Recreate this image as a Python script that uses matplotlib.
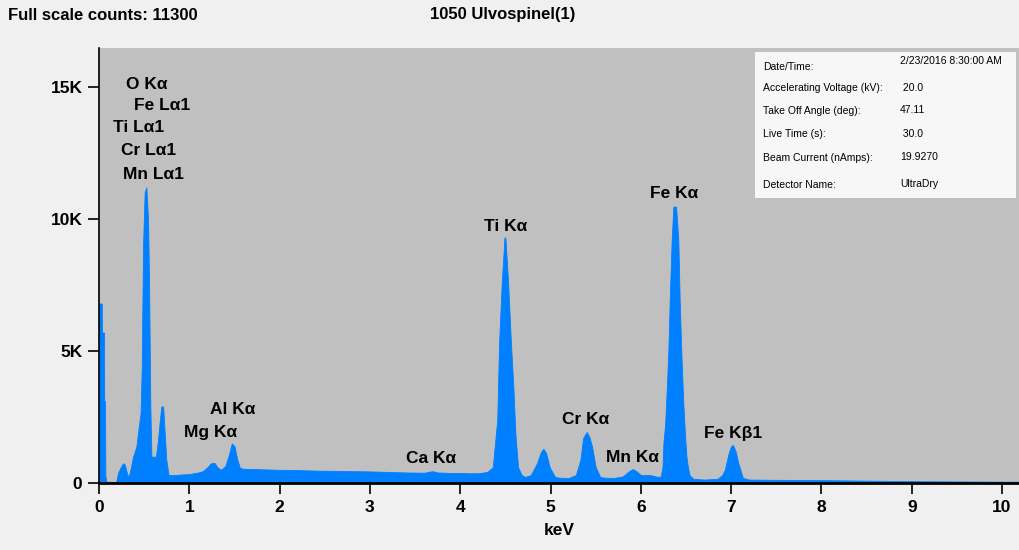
import matplotlib
matplotlib.use("Agg")
import matplotlib.pyplot as plt
from matplotlib.ticker import FuncFormatter

# spectrum: energy (keV) and counts
energy = [0.00, 0.03, 0.033, 0.055, 0.057, 0.066, 0.07, 0.08, 0.19, 0.21, 0.24, 0.265, 0.285, 0.32,
          0.34, 0.377, 0.413, 0.44, 0.46, 0.473, 0.487, 0.505, 0.524, 0.543, 0.554, 0.568, 0.58,
          0.60, 0.63, 0.653, 0.67, 0.69, 0.71, 0.727, 0.745, 0.77, 0.80, 0.85, 0.90,
          0.95, 1.00, 1.05, 1.10, 1.15, 1.20, 1.24, 1.28, 1.31, 1.35, 1.40, 1.44, 1.47, 1.50,
          1.53, 1.56, 1.60, 1.70, 1.80, 1.90, 2.00, 2.20, 2.40, 2.60, 2.80, 3.00, 3.20, 3.40,
          3.60, 3.69, 3.75, 3.90, 4.00, 4.10, 4.20, 4.30, 4.36, 4.41, 4.43, 4.46, 4.49, 4.50,
          4.53, 4.56, 4.59, 4.61, 4.64, 4.68, 4.72, 4.78, 4.85, 4.89, 4.92, 4.95, 4.99, 5.05,
          5.10, 5.20, 5.28, 5.33, 5.36, 5.40, 5.43, 5.46, 5.50, 5.55, 5.60, 5.70, 5.80, 5.87,
          5.91, 5.95, 6.00, 6.10, 6.18, 6.22, 6.24, 6.25, 6.27, 6.29, 6.305, 6.32, 6.34, 6.36,
          6.39, 6.415, 6.43, 6.45, 6.47, 6.49, 6.505, 6.52, 6.54, 6.58, 6.70, 6.85, 6.90,
          6.93, 6.97, 7.00, 7.02, 7.05, 7.08, 7.13, 7.20, 7.50, 8.00, 8.50, 9.00, 9.50, 10.00,
          10.20]
counts = [6800, 6800, 5700, 5700, 3100, 3100, 300, 50, 40, 380, 600, 750, 700, 230,
          380, 1000, 1370, 2130, 2650, 4400, 8950, 11000, 11200, 9960, 7570, 2900, 1000,
          1000, 1000, 1630, 2270, 2900, 2900, 1890, 870, 300, 300, 300, 320,
          330, 340, 370, 400, 450, 600, 750, 760, 600, 500, 650, 1100, 1500, 1400,
          900, 570, 540, 530, 520, 510, 500, 490, 470, 460, 450, 440, 420, 400,
          390, 450, 400, 380, 380, 370, 370, 420, 600, 2400, 5300, 7600, 9300, 9300,
          7600, 5400, 3500, 1900, 600, 300, 230, 300, 750, 1150, 1300, 1150, 600, 230,
          200, 190, 300, 870, 1700, 1930, 1750, 1370, 600, 230, 200, 190, 250, 450,
          530, 450, 300, 300, 240, 240, 620, 1520, 2270, 3790, 5040, 6930, 9090, 10470,
          10470, 9200, 6930, 4780, 3030, 1760, 1000, 620, 300, 160, 130, 160, 300,
          500, 1100, 1400, 1440, 1200, 750, 190, 130, 120, 110, 90, 70, 60, 50,
          50]

# peak labels and where they sit
peak_names = ["O K\u03b1", "Fe L\u03b11", "Ti L\u03b11", "Cr L\u03b11", "Mn L\u03b11",
              "Mg K\u03b1", "Al K\u03b1", "Ca K\u03b1", "Ti K\u03b1", "Cr K\u03b1",
              "Mn K\u03b1", "Fe K\u03b1", "Fe K\u03b21"]
peak_x = [0.30, 0.39, 0.155, 0.245, 0.265, 0.94, 1.23, 3.40, 4.26, 5.13, 5.61, 6.10, 6.70]
peak_y = [15080, 14300, 13450, 12600, 11700, 1930, 2800, 910, 9730, 2390, 980, 10950, 1890]

info_labels = ["Date/Time:", "Accelerating Voltage (kV):", "Take Off Angle (deg):",
               "Live Time (s):", "Beam Current (nAmps):", "Detector Name:"]
info_values = ["2/23/2016 8:30:00 AM", " 20.0", "47.11", " 30.0", "19.9270", "UltraDry"]

bold = dict(family="Liberation Sans", weight="bold")

fig = plt.figure(figsize=(10.2, 5.5), dpi=100, facecolor="#F0F0F0")
ax = fig.add_axes([0.0971, 0.1218, 0.903, 0.791])
ax.set_facecolor("#C0C0C0")
ax.fill_between(energy, counts, 0, color="#0080FF", linewidth=0.6, edgecolor="#0080FF")
ax.set_xlim(0, 10.2)
ax.set_ylim(0, 16480)

ax.spines["top"].set_visible(False)
ax.spines["right"].set_visible(False)
ax.spines["left"].set_linewidth(1.2)
ax.spines["bottom"].set_linewidth(2)
ax.set_xticks(range(0, 11))
ax.set_yticks([0, 5000, 10000, 15000])
ax.yaxis.set_major_formatter(FuncFormatter(lambda v, p: "0" if v == 0 else f"{int(v / 1000)}K"))
ax.tick_params(direction="out", length=8, width=1.2, pad=4)
for lab in ax.get_xticklabels() + ax.get_yticklabels():
    lab.set_fontproperties(dict(bold, size=12.5))
ax.set_xlabel("keV", fontsize=12.5, labelpad=6, **bold)

for name, x, y in zip(peak_names, peak_x, peak_y):
    ax.text(x, y, name, ha="left", va="center", fontsize=12.5, **bold)

fig.text(8 / 1020, 1 - 15 / 550, "Full scale counts: 11300", ha="left", va="center",
         fontsize=12, **bold)
fig.text(430 / 1020, 1 - 15 / 550, "1050 Ulvospinel(1)", ha="left", va="center",
         fontsize=12, **bold)

# info box
box = plt.Rectangle((755 / 1020, 1 - 198 / 550), 261 / 1020, 146 / 550,
                    transform=fig.transFigure, facecolor="#F7F7F7", edgecolor="none",
                    zorder=5)
fig.patches.append(box)
row_y = [67, 88, 111, 134, 158, 185]
val_y = [61, 88, 110, 134, 157, 184]
for lab, val, ly, vy in zip(info_labels, info_values, row_y, val_y):
    fig.text(763 / 1020, 1 - ly / 550, lab, ha="left", va="center", fontsize=7.5,
             family="Liberation Sans", zorder=6)
    fig.text(900 / 1020, 1 - vy / 550, val, ha="left", va="center", fontsize=7.5,
             family="Liberation Sans", zorder=6)

fig.savefig("out.png", dpi=100, facecolor=fig.get_facecolor())
